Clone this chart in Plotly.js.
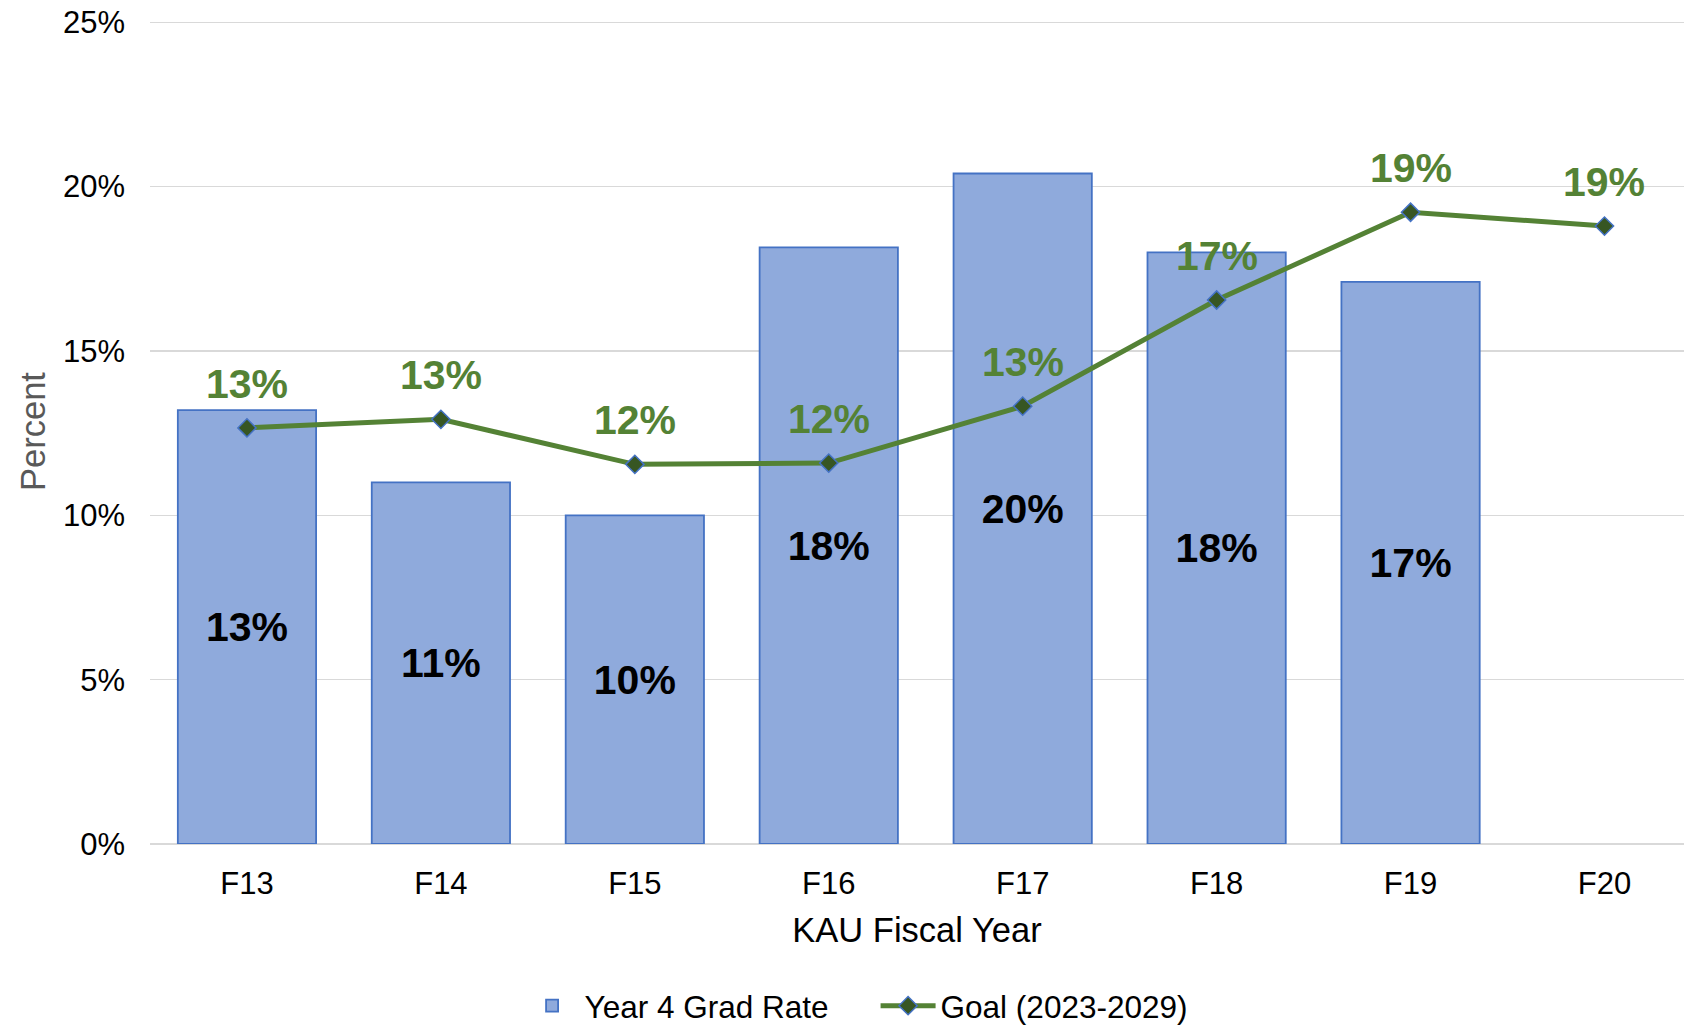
<!DOCTYPE html>
<html>
<head>
<meta charset="utf-8">
<script src="https://cdn.plot.ly/plotly-3.0.1.min.js"></script>
<style>html,body{margin:0;padding:0;background:#fff;}#chart{width:1684px;height:1025px;}</style>
</head>
<body>
<div id="chart"></div>
<script>
// Data
const categories = ["F13", "F14", "F15", "F16", "F17", "F18", "F19", "F20"];
const gradRate = [13.2, 11.0, 10.0, 18.15, 20.4, 18.0, 17.1, null];
const gradRateLabels = ["13%", "11%", "10%", "18%", "20%", "18%", "17%", ""];
const goal = [12.66, 12.92, 11.55, 11.59, 13.32, 16.55, 19.22, 18.8];
const goalLabels = ["13%", "13%", "12%", "12%", "13%", "17%", "19%", "19%"];
const yTickVals = [0, 5, 10, 15, 20, 25];
const yTickText = ["0%", "5%", "10%", "15%", "20%", "25%"];

const FONT = '"Liberation Sans", Arial, sans-serif';

const barTrace = {
  type: 'bar',
  name: 'Year 4 Grad Rate',
  x: categories.slice(0, 7),
  y: gradRate.slice(0, 7),
  text: gradRateLabels.slice(0, 7),
  textposition: 'inside',
  insidetextanchor: 'middle',
  textangle: 0,
  constraintext: 'none',
  textfont: {family: FONT, size: 41, color: '#000000', weight: 'bold'},
  marker: {color: '#8FAADC', line: {color: '#4472C4', width: 1.8}},
  hoverinfo: 'x+y'
};

const lineTrace = {
  type: 'scatter',
  mode: 'lines+markers',
  name: 'Goal (2023-2029)',
  x: categories,
  y: goal,
  line: {color: '#548235', width: 5},
  marker: {symbol: 'diamond', size: 14, color: '#375623', line: {color: '#4472C4', width: 1.5}},
  hoverinfo: 'x+y'
};

const annotations = categories.map((c, i) => ({
  x: c,
  y: goal[i],
  xref: 'x',
  yref: 'y',
  text: '<b>' + goalLabels[i] + '</b>',
  showarrow: false,
  yshift: 44,
  font: {family: FONT, size: 41, color: '#548235'}
}));

const layout = {
  width: 1684,
  height: 1025,
  margin: {l: 150, r: 0, t: 19, b: 181, autoexpand: false},
  paper_bgcolor: '#ffffff',
  plot_bgcolor: '#ffffff',
  font: {family: FONT, color: '#000000'},
  bargap: 0.287,
  showlegend: true,
  legend: {
    orientation: 'h',
    x: 0.473,
    xanchor: 'center',
    y: -0.196,
    yanchor: 'middle',
    font: {family: FONT, size: 31.5, color: '#000000'},
    itemwidth: 55,
    entrywidth: 286,
    entrywidthmode: 'pixels',
    tracegroupgap: 0
  },
  xaxis: {
    type: 'category',
    range: [-0.5, 7.41],
    showgrid: false,
    showline: false,
    zeroline: false,
    ticks: '',
    tickfont: {family: FONT, size: 31, color: '#000000'},
    ticklabelstandoff: 18,
    title: {text: 'KAU Fiscal Year', font: {family: FONT, size: 34.5, color: '#000000'}, standoff: 17},
    automargin: false,
    fixedrange: true
  },
  yaxis: {
    range: [0, 25.1],
    tickvals: yTickVals,
    ticktext: yTickText,
    showgrid: true,
    gridcolor: '#D9D9D9',
    gridwidth: 1.5,
    zeroline: true,
    zerolinecolor: '#D9D9D9',
    zerolinewidth: 1.5,
    showline: false,
    ticks: '',
    tickfont: {family: FONT, size: 31, color: '#000000'},
    ticklabelstandoff: 24,
    title: {text: 'Percent', font: {family: FONT, size: 34.5, color: '#595959'}, standoff: 6},
    automargin: false,
    fixedrange: true
  },
  annotations: annotations
};

Plotly.newPlot('chart', [barTrace, lineTrace], layout, {staticPlot: true, displayModeBar: false});
</script>
</body>
</html>
